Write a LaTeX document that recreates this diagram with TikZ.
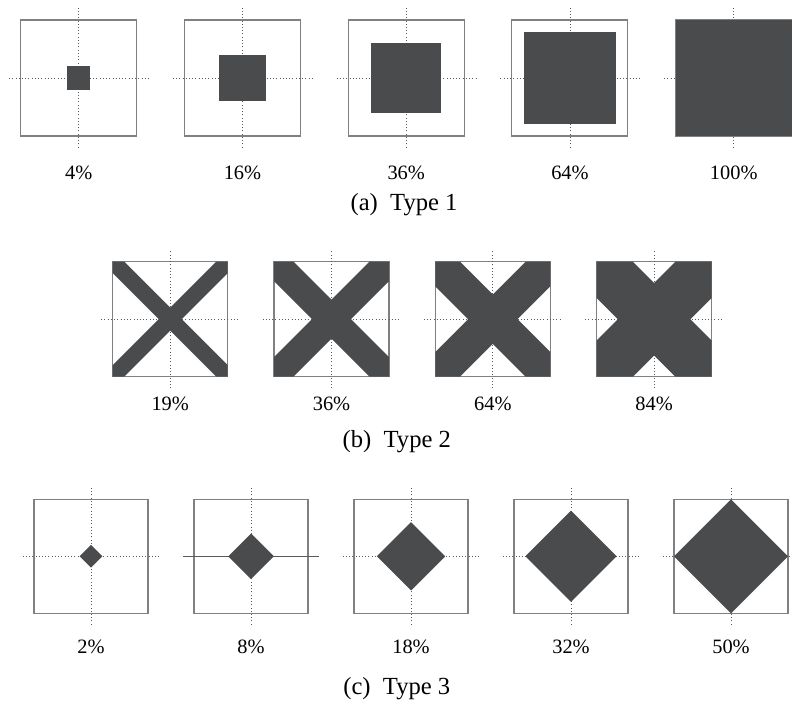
\documentclass[tikz,border=0pt]{standalone}
\usepackage{fontspec}
\setmainfont{Liberation Serif}
\definecolor{patfill}{HTML}{4A4B4D}
\definecolor{framegray}{HTML}{808080}
\definecolor{guidegray}{HTML}{5A5A5A}
\tikzset{
  frame/.style={draw=framegray,line width=0.75pt},
  guide/.style={draw=guidegray,line width=0.6pt,dash pattern=on 0.7pt off 1.6pt},
  solidguide/.style={draw=guidegray,line width=0.6pt},
  patch/.style={fill=patfill,draw=none},
  pct/.style={font=\fontsize{14.5}{17}\selectfont,anchor=base},
  subcap/.style={font=\fontsize{17.5}{20}\selectfont,anchor=base},
}
\begin{document}
\begin{tikzpicture}[x=1cm,y=1cm]
\useasboundingbox (0,0) rectangle (19.8,17.55);
% (a) squares
\foreach \k/\f [count=\i from 0] in {4/0.2,16/0.4,36/0.6,64/0.8,100/1.0}{
  \begin{scope}[shift={(1.967+4.094*\i,15.6)},scale=1.45]
    \draw[frame] (-1,-1) rectangle (1,1);
    \draw[guide] (-1.2,0) -- (1.2,0);
    \draw[guide] (0,-1.2) -- (0,1.2);
    \fill[patch] (-\f,-\f) rectangle (\f,\f);
    \node[pct] (a\i) at (0,-1.752) {\k\%};
  \end{scope}
}
\node[subcap] (capa) at (10.1,12.28) {(a)\enspace Type 1};
% (b) crosses
\foreach \k/\t [count=\i from 0] in {19/0.20,36/0.34,64/0.43,84/0.63}{
  \begin{scope}[shift={(4.255+4.0325*\i,9.57)},scale=1.4375]
    \draw[frame] (-1,-1) rectangle (1,1);
    \draw[guide] (-1.2,0) -- (1.2,0);
    \draw[guide] (0,-1.2) -- (0,1.2);
    \fill[patch] (-1,1-\t) -- (-1,1) -- (-1+\t,1) -- (1,-1+\t) -- (1,-1) -- (1-\t,-1) -- cycle;
    \fill[patch] (-1,-1+\t) -- (-1,-1) -- (-1+\t,-1) -- (1,1-\t) -- (1,1) -- (1-\t,1) -- cycle;
    \node[pct] (b\i) at (0,-1.593) {\k\%};
  \end{scope}
}
\node[subcap] (capb) at (9.92,6.35) {(b)\enspace Type 2};
% (c) diamonds
\foreach \k/\d/\hs [count=\i from 0] in {2/0.2/guide,8/0.4/solidguide,18/0.6/guide,32/0.8/guide,50/1.0/guide}{
  \begin{scope}[shift={(2.275+4*\i,3.6425)},scale=1.425]
    \draw[frame] (-1,-1) rectangle (1,1);
    \draw[\hs] (-1.2,0) -- (1.2,0);
    \draw[guide] (0,-1.2) -- (0,1.2);
    \fill[patch] (\d,0) -- (0,\d) -- (-\d,0) -- (0,-\d) -- cycle;
    \node[pct] (c\i) at (0,-1.712) {\k\%};
  \end{scope}
}
\node[subcap] (capc) at (9.92,0.175) {(c)\enspace Type 3};
\end{tikzpicture}
\end{document}
